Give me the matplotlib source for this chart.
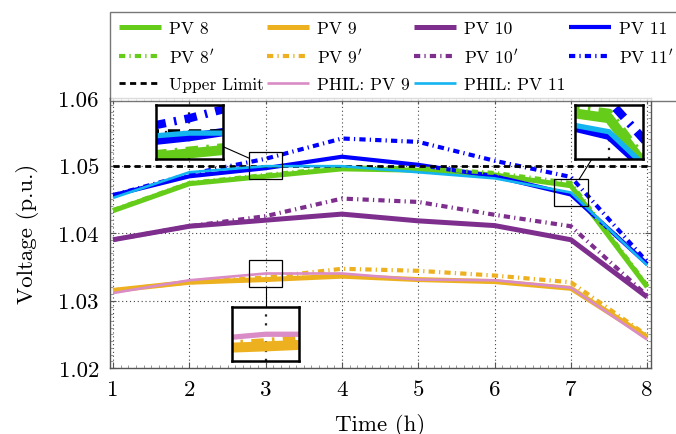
import matplotlib
matplotlib.use("Agg")
import matplotlib.pyplot as plt
from matplotlib.patches import Rectangle
from matplotlib.ticker import MultipleLocator

plt.rcParams['font.family'] = ['cmr10', 'DejaVu Serif']
plt.rcParams['mathtext.fontset'] = 'cm'
plt.rcParams['axes.formatter.use_mathtext'] = True

# ---------------- data ----------------
hours = [1, 2, 3, 4, 5, 6, 7, 8]
pv8 = [1.0433, 1.0473, 1.0484, 1.0495, 1.0493, 1.0486, 1.0470, 1.0320]
pv9 = [1.0315, 1.0327, 1.0331, 1.0336, 1.0331, 1.0328, 1.0318, 1.0246]
pv10 = [1.0390, 1.0410, 1.0419, 1.0428, 1.0418, 1.0411, 1.0390, 1.0305]
pv11 = [1.0456, 1.0484, 1.0496, 1.0513, 1.0501, 1.0484, 1.0457, 1.0354]
pv8p = [1.0434, 1.0474, 1.0486, 1.0497, 1.0496, 1.0489, 1.0474, 1.0322]
pv9p = [1.0315, 1.0327, 1.0334, 1.0347, 1.0344, 1.0337, 1.0327, 1.0248]
pv10p = [1.0390, 1.0410, 1.0425, 1.0451, 1.0446, 1.0427, 1.0410, 1.0307]
pv11p = [1.0456, 1.0487, 1.0510, 1.0540, 1.0535, 1.0507, 1.0483, 1.0357]
upper_limit = 1.05
phil9 = [1.0311, 1.0330, 1.0340, 1.0340, 1.0331, 1.0330, 1.0319, 1.0242]
phil11 = [1.0452, 1.0490, 1.0499, 1.0499, 1.0490, 1.0481, 1.0460, 1.0352]

labels = ['PV 8', 'PV 9', 'PV 10', 'PV 11',
          r'PV 8$^{\prime}$', r'PV 9$^{\prime}$', r'PV 10$^{\prime}$', r'PV 11$^{\prime}$',
          'Upper Limit', 'PHIL: PV 9', 'PHIL: PV 11']
xtick_vals = [1, 2, 3, 4, 5, 6, 7, 8]
xtick_labels = ['1', '2', '3', '4', '5', '6', '7', '8']
ytick_vals = [1.02, 1.03, 1.04, 1.05, 1.06]
ytick_labels = ['1.02', '1.03', '1.04', '1.05', '1.06']

# spy regions: (x center, y low, y high) and inset centers
spy_src = [(3.0, 1.048, 1.052), (7.0, 1.044, 1.048), (3.0, 1.032, 1.036)]
spy_dst = [(2.0, 1.055), (7.5, 1.055), (3.0, 1.025)]
spy_halfx = 0.22
spy_mag = 2.0

# ---------------- styles ----------------
GREEN = '#66CC1A'
ORANGE = '#EDB120'
PURPLE = '#7E2F8E'
BLUE = '#0000FF'
LBLUE = '#14B4F0'
PINK = '#D98CC6'
DD = (0, (1.5, 1.0, 0.3, 1.0))

series = [
    (pv8, GREEN, 3.6, '-'),
    (pv9, ORANGE, 3.6, '-'),
    (pv10, PURPLE, 3.6, '-'),
    (pv11, BLUE, 3.0, '-'),
    (pv8p, GREEN, 3.0, DD),
    (pv9p, ORANGE, 3.0, DD),
    (pv10p, PURPLE, 3.0, DD),
    (pv11p, BLUE, 3.0, DD),
    ([upper_limit] * len(hours), 'black', 2.0, (0, (2.2, 1.6))),
    (phil9, PINK, 1.9, '-'),
    (phil11, LBLUE, 1.9, '-'),
]


def draw_series(a, scale=1.0):
    out = []
    for i, (vals, col, lw, ls) in enumerate(series):
        ln, = a.plot(hours, vals, color=col, lw=lw * scale, ls=ls,
                     solid_capstyle='butt', dash_capstyle='butt',
                     solid_joinstyle='miter', zorder=2 + i * 0.01)
        out.append(ln)
    return out


fig = plt.figure(figsize=(6.76, 4.35), dpi=100)
ax = fig.add_axes([110 / 676, 1 - 369 / 435, (651 - 110) / 676, (369 - 99) / 435])

handles = draw_series(ax)
ax.set_xlim(0.96, 8.05)
ax.set_ylim(1.02, 1.06)
ax.set_xticks(xtick_vals)
ax.set_xticklabels(xtick_labels)
ax.set_yticks(ytick_vals)
ax.set_yticklabels(ytick_labels)
ax.xaxis.set_minor_locator(MultipleLocator(0.1))
ax.yaxis.set_minor_locator(MultipleLocator(0.001))
ax.tick_params(which='major', direction='in', length=4, width=0.8, color='#555555',
               top=True, right=True, labelsize=16.5, pad=8)
ax.tick_params(which='minor', direction='in', length=2, width=0.6, color='#888888',
               top=True, right=True)
ax.grid(True, which='major', ls=(0, (1, 2.5)), color='#444444', lw=0.8)
for s in ax.spines.values():
    s.set_color('#555555')
    s.set_linewidth(1.0)
ax.set_xlabel('Time (h)', fontsize=16.5, labelpad=10)
ax.set_ylabel('Voltage (p.u.)', fontsize=16.5, labelpad=14)

# ---------------- spy insets ----------------
for (sx, sy0, sy1), (dx, dy) in zip(spy_src, spy_dst):
    hy = (sy1 - sy0) / 2
    sc = (sx, (sy0 + sy1) / 2)
    ihx, ihy = spy_halfx * spy_mag, hy * spy_mag
    ins = ax.inset_axes([dx - ihx, dy - ihy, 2 * ihx, 2 * ihy], transform=ax.transData)
    draw_series(ins, scale=spy_mag)
    ins.set_xlim(sx - spy_halfx, sx + spy_halfx)
    ins.set_ylim(sy0, sy1)
    ins.set_xticks([v for v in xtick_vals if sx - spy_halfx < v < sx + spy_halfx])
    ins.set_yticks([v for v in ytick_vals if sy0 < v < sy1])
    ins.tick_params(length=0, labelbottom=False, labelleft=False)
    ins.grid(True, ls=(0, (1, 3)), color='#222222', lw=1.6)
    for s in ins.spines.values():
        s.set_color('black')
        s.set_linewidth(1.8)
    ax.add_patch(Rectangle((sx - spy_halfx, sy0), 2 * spy_halfx, sy1 - sy0,
                           fill=False, ec='black', lw=0.9, zorder=4))
    # connector from inset center to source center, clipped to both boxes
    ddx, ddy = sc[0] - dx, sc[1] - dy
    t1 = min(ihx / abs(ddx) if ddx else 1e9, ihy / abs(ddy) if ddy else 1e9)
    t2 = min(spy_halfx / abs(ddx) if ddx else 1e9, hy / abs(ddy) if ddy else 1e9)
    ax.plot([dx + t1 * ddx, sc[0] - t2 * ddx], [dy + t1 * ddy, sc[1] - t2 * ddy],
            color='black', lw=0.8, zorder=4, clip_on=False)

# ---------------- legend ----------------
order = [0, 4, 8, 1, 5, 9, 2, 6, 10, 3, 7]
leg = fig.legend([handles[i] for i in order], [labels[i] for i in order],
                 loc='upper left', bbox_to_anchor=(110 / 676, 1 - 13 / 435),
                 ncol=4, fontsize=12.6, handlelength=2.4, handletextpad=0.45,
                 columnspacing=0.22, labelspacing=0.62, borderpad=0.5,
                 fancybox=False, frameon=True, borderaxespad=0)
leg.get_frame().set_edgecolor('#555555')
leg.get_frame().set_linewidth(1.0)

fig.savefig('out.png', dpi=100)
